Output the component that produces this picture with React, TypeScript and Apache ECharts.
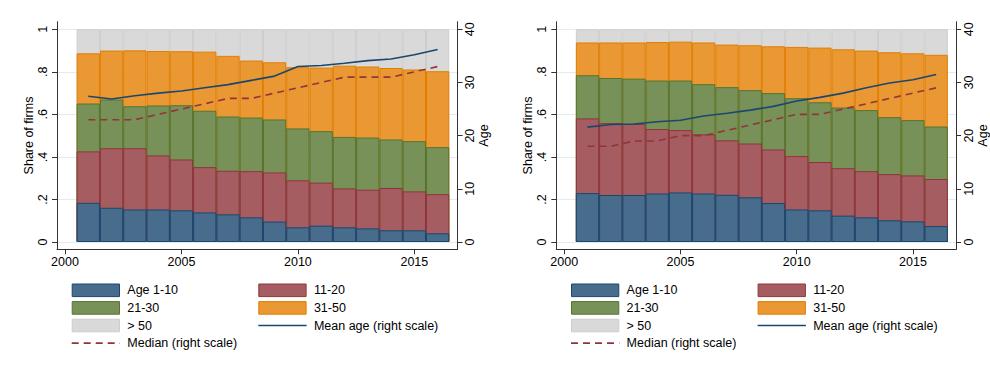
import { useEffect, useRef } from "react";
import * as echarts from "echarts";

// ---- data -------------------------------------------------------------
const years = [2001, 2002, 2003, 2004, 2005, 2006, 2007, 2008, 2009, 2010, 2011, 2012, 2013, 2014, 2015, 2016];
const yearTicks = [2000, 2005, 2010, 2015];
const shareTicks = [0, 0.2, 0.4, 0.6, 0.8, 1];
const ageTicks = [0, 10, 20, 30, 40];

const groupNames = ["Age 1-10", "11-20", "21-30", "31-50", "> 50"];
const meanName = "Mean age (right scale)";
const medianName = "Median (right scale)";

// left panel: share of firms by age group
const leftAge1to10 = [0.184, 0.161, 0.153, 0.153, 0.149, 0.139, 0.13, 0.116, 0.096, 0.069, 0.077, 0.069, 0.064, 0.055, 0.055, 0.041];
const leftAge11to20 = [0.242, 0.28, 0.288, 0.254, 0.239, 0.213, 0.205, 0.217, 0.231, 0.221, 0.202, 0.183, 0.182, 0.199, 0.183, 0.184];
const leftAge21to30 = [0.225, 0.229, 0.197, 0.235, 0.255, 0.265, 0.255, 0.252, 0.249, 0.244, 0.242, 0.242, 0.245, 0.228, 0.236, 0.221];
const leftAge31to50 = [0.236, 0.23, 0.263, 0.256, 0.254, 0.278, 0.285, 0.268, 0.269, 0.288, 0.299, 0.335, 0.334, 0.336, 0.337, 0.357];
const leftAgeOver50 = [0.113, 0.1, 0.099, 0.102, 0.103, 0.105, 0.125, 0.147, 0.155, 0.178, 0.18, 0.171, 0.175, 0.182, 0.189, 0.197];
const leftMeanAge = [27.4, 26.9, 27.5, 28.0, 28.4, 29.0, 29.6, 30.4, 31.2, 33.0, 33.2, 33.6, 34.1, 34.4, 35.2, 36.2];
const leftMedianAge = [23, 23, 23, 24, 25, 26, 27, 27, 28, 29, 30, 31, 31, 31, 32, 33];

// right panel
const rightAge1to10 = [0.23, 0.221, 0.221, 0.228, 0.233, 0.228, 0.222, 0.21, 0.183, 0.153, 0.149, 0.124, 0.116, 0.102, 0.097, 0.075];
const rightAge11to20 = [0.351, 0.338, 0.334, 0.303, 0.293, 0.278, 0.256, 0.253, 0.252, 0.251, 0.227, 0.223, 0.217, 0.217, 0.216, 0.221];
const rightAge21to30 = [0.203, 0.212, 0.213, 0.228, 0.233, 0.236, 0.25, 0.251, 0.265, 0.272, 0.281, 0.285, 0.287, 0.268, 0.26, 0.247];
const rightAge31to50 = [0.154, 0.167, 0.17, 0.181, 0.183, 0.196, 0.2, 0.211, 0.22, 0.241, 0.257, 0.274, 0.28, 0.305, 0.314, 0.337];
const rightAgeOver50 = [0.062, 0.062, 0.062, 0.06, 0.058, 0.062, 0.072, 0.075, 0.08, 0.083, 0.086, 0.094, 0.1, 0.108, 0.113, 0.12];
const rightMeanAge = [21.6, 22.1, 22.2, 22.6, 22.9, 23.7, 24.2, 24.8, 25.5, 26.5, 27.2, 28.0, 29.0, 29.9, 30.5, 31.5];
const rightMedianAge = [18, 18, 19, 19, 20, 20, 21, 22, 23, 24, 24, 25, 26, 27, 28, 29];

// ---- styling ----------------------------------------------------------
const FONT = "'Liberation Sans', Arial, Helvetica, sans-serif";
const FONT_SIZE = 12.5;
const TEXT = "#000000";
const AXIS = "#333333";
const GRID_LINE = "#e3ebed";
const fills = ["#486c8c", "#a65d62", "#779159", "#e99833", "#d9d9d9"];
const edges = ["#1a476f", "#90353b", "#55752f", "#e37e00", "#cdcdcd"];
const MEAN_COLOR = "#1a476f";
const MEDIAN_COLOR = "#90353b";
const MEDIAN_DASH = [7, 5];

// panel geometry (px)
const PANEL_DX = 499.3;
const PLOT_LEFT = 57;
const PLOT_TOP = 21.7;
const PLOT_W = 400.6;
const PLOT_H = 227.6;
const X_MIN = 1999.657;
const X_MAX = 2016.857;
const SHARE_MIN = -0.0343;
const SHARE_MAX = 1.0357;
const AGE_MIN = SHARE_MIN * 40;
const AGE_MAX = SHARE_MAX * 40;
const BAR_W = PLOT_W / (X_MAX - X_MIN);

const panels = [
  {
    groups: [leftAge1to10, leftAge11to20, leftAge21to30, leftAge31to50, leftAgeOver50],
    mean: leftMeanAge,
    median: leftMedianAge,
  },
  {
    groups: [rightAge1to10, rightAge11to20, rightAge21to30, rightAge31to50, rightAgeOver50],
    mean: rightMeanAge,
    median: rightMedianAge,
  },
];

const shareLabel = (v: number) => (v === 0 ? "0" : v === 1 ? "1" : String(v).replace(/^0/, ""));

const textStyle = { color: TEXT, fontSize: FONT_SIZE, fontFamily: FONT };

function buildLegend(dx: number) {
  const rowY0 = 290.3;
  const rowGap = 17.6;
  const keyW = 48.3;
  const keyH = 12.6;
  const col1 = 71.7 + dx;
  const col2 = 258.3 + dx;
  const textGap = 55.6;
  type Key = { name: string; col: number; row: number; kind: "rect" | "solid" | "dash"; idx?: number };
  const keys: Key[] = [
    { name: groupNames[0], col: col1, row: 0, kind: "rect", idx: 0 },
    { name: groupNames[1], col: col2, row: 0, kind: "rect", idx: 1 },
    { name: groupNames[2], col: col1, row: 1, kind: "rect", idx: 2 },
    { name: groupNames[3], col: col2, row: 1, kind: "rect", idx: 3 },
    { name: groupNames[4], col: col1, row: 2, kind: "rect", idx: 4 },
    { name: meanName, col: col2, row: 2, kind: "solid" },
    { name: medianName, col: col1, row: 3, kind: "dash" },
  ];
  const els: any[] = [];
  keys.forEach((k) => {
    const cy = rowY0 + k.row * rowGap;
    if (k.kind === "rect") {
      els.push({
        type: "rect",
        silent: true,
        shape: { x: k.col + 0.5, y: cy - keyH / 2, width: keyW - 1, height: keyH },
        style: { fill: fills[k.idx!], stroke: edges[k.idx!], lineWidth: 1 },
      });
    } else {
      els.push({
        type: "line",
        silent: true,
        shape: { x1: k.col, y1: cy, x2: k.col + keyW, y2: cy },
        style: {
          stroke: k.kind === "solid" ? MEAN_COLOR : MEDIAN_COLOR,
          lineWidth: 1.6,
          lineDash: k.kind === "dash" ? MEDIAN_DASH : null,
        },
      });
    }
    els.push({
      type: "text",
      silent: true,
      x: k.col + textGap,
      y: cy,
      style: {
        text: k.name,
        fill: TEXT,
        fontSize: FONT_SIZE,
        fontFamily: FONT,
        verticalAlign: "middle",
        align: "left",
      },
    });
  });
  return els;
}

function buildOption() {
  const grid: any[] = [];
  const xAxis: any[] = [];
  const yAxis: any[] = [];
  const series: any[] = [];
  const graphic: any[] = [];

  panels.forEach((p, pi) => {
    const dx = pi * PANEL_DX;
    grid.push({ left: PLOT_LEFT + dx, top: PLOT_TOP, width: PLOT_W, height: PLOT_H, containLabel: false });
    xAxis.push({
      gridIndex: pi,
      type: "value",
      min: X_MIN,
      max: X_MAX,
      axisLine: { show: true, onZero: false, lineStyle: { color: AXIS, width: 1 } },
      axisTick: { show: true, length: 5, customValues: yearTicks, lineStyle: { color: AXIS } },
      axisLabel: { customValues: yearTicks, margin: 6, formatter: (v: number) => String(v), ...textStyle },
      splitLine: { show: false },
    });
    yAxis.push({
      gridIndex: pi,
      type: "value",
      position: "left",
      min: SHARE_MIN,
      max: SHARE_MAX,
      name: "Share of firms",
      nameLocation: "middle",
      nameGap: 22,
      nameTextStyle: textStyle,
      axisLine: { show: true, onZero: false, lineStyle: { color: AXIS, width: 1 } },
      axisTick: { show: true, length: 5, customValues: shareTicks, lineStyle: { color: AXIS } },
      axisLabel: { customValues: shareTicks, rotate: 90, margin: 8, formatter: shareLabel, ...textStyle },
      splitLine: { show: true, lineStyle: { color: GRID_LINE, width: 1 } },
    });
    yAxis.push({
      gridIndex: pi,
      type: "value",
      position: "right",
      min: AGE_MIN,
      max: AGE_MAX,
      name: "Age",
      nameLocation: "middle",
      nameGap: 19,
      nameTextStyle: textStyle,
      axisLine: { show: true, onZero: false, lineStyle: { color: AXIS, width: 1 } },
      axisTick: { show: true, length: 5, customValues: ageTicks, lineStyle: { color: AXIS } },
      axisLabel: { customValues: ageTicks, rotate: 90, margin: 6, ...textStyle },
      splitLine: { show: false },
    });

    // Stacked shares: each segment is drawn as a bar from 0 up to its running
    // total, oldest group first, so the younger groups sit on top of it.
    const running = years.map(() => 0);
    const cumulative = p.groups.map((vals) =>
      vals.map((v, i) => {
        running[i] += v;
        return running[i];
      })
    );
    for (let k = p.groups.length - 1; k >= 0; k--) {
      series.push({
        type: "bar",
        name: groupNames[k],
        xAxisIndex: pi,
        yAxisIndex: pi * 2,
        barWidth: BAR_W,
        barGap: "-100%",
        silent: true,
        data: years.map((yr, i) => [yr, cumulative[k][i]]),
        itemStyle: { color: fills[k], borderColor: edges[k], borderWidth: 1 },
        z: 2,
      });
    }
    series.push({
      type: "line",
      name: meanName,
      xAxisIndex: pi,
      yAxisIndex: pi * 2 + 1,
      symbol: "none",
      silent: true,
      data: years.map((yr, i) => [yr, p.mean[i]]),
      lineStyle: { color: MEAN_COLOR, width: 1.6 },
      z: 4,
    });
    series.push({
      type: "line",
      name: medianName,
      xAxisIndex: pi,
      yAxisIndex: pi * 2 + 1,
      symbol: "none",
      silent: true,
      data: years.map((yr, i) => [yr, p.median[i]]),
      lineStyle: { color: MEDIAN_COLOR, width: 1.6, type: MEDIAN_DASH },
      z: 4,
    });

    graphic.push(...buildLegend(dx));
  });

  return {
    animation: false,
    backgroundColor: "#ffffff",
    textStyle: { fontFamily: FONT },
    grid,
    xAxis,
    yAxis,
    series,
    graphic,
  };
}

export default function App() {
  const ref = useRef<HTMLDivElement>(null);
  useEffect(() => {
    if (!ref.current) return;
    const chart = echarts.init(ref.current, undefined, { renderer: "svg" });
    chart.setOption(buildOption());
    return () => chart.dispose();
  }, []);
  return (
    <div
      ref={ref}
      style={{ position: "absolute", left: 0, top: 0, width: 990, height: 368, background: "#ffffff" }}
    />
  );
}
